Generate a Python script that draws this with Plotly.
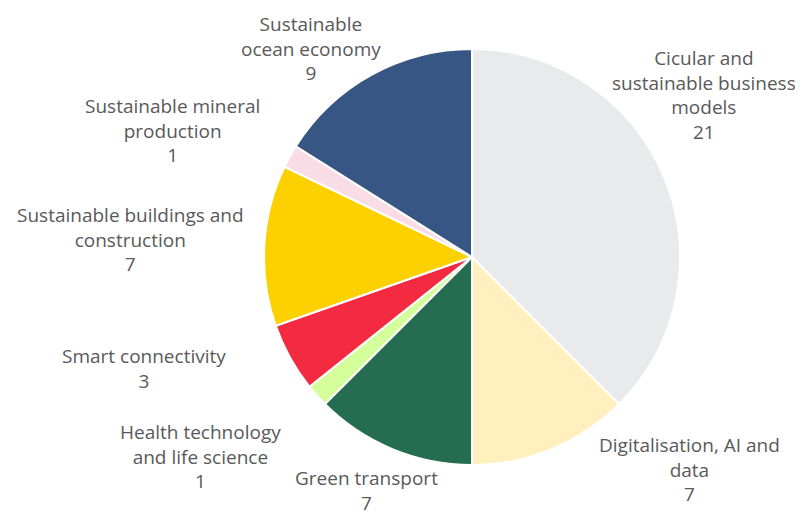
import plotly.graph_objects as go

labels = [
    "Cicular and<br>sustainable business<br>models",
    "Digitalisation, AI and<br>data",
    "Green transport",
    "Health technology<br>and life science",
    "Smart connectivity",
    "Sustainable buildings and<br>construction",
    "Sustainable mineral<br>production",
    "Sustainable<br>ocean economy",
]
values = [21, 7, 7, 1, 3, 7, 1, 9]
colors = ["#E9EAEC", "#FFF0BE", "#256D50", "#D4FF9A", "#F42A40", "#FDD000", "#FADCE6", "#375683"]

# label block centres in screen pixels (layout, not data)
label_px = [(704, 95), (689, 469), (366, 490), (200, 456),
            (144, 368), (130, 239), (172, 131), (311, 48)]

W, H = 803, 516
OFF = 8  # page body margin offset


def fx(px):
    return (px - OFF) / W


def fy(py):
    return 1 - (py - OFF) / H


fig = go.Figure(go.Pie(
    labels=labels,
    values=values,
    sort=False,
    direction="clockwise",
    rotation=0,
    marker=dict(colors=colors, line=dict(color="white", width=2)),
    textinfo="none",
    hoverinfo="label+value",
    showlegend=False,
    domain=dict(x=[fx(264), fx(680)], y=[fy(466), fy(48)]),
))

for lab, val, (px, py) in zip(labels, values, label_px):
    fig.add_annotation(
        x=fx(px), y=fy(py), xref="paper", yref="paper",
        text=f"{lab}<br>{val}", showarrow=False,
        xanchor="center", yanchor="middle", align="center",
        font=dict(family="Open Sans", size=19, color="#595959"),
    )

fig.update_layout(
    width=W, height=H,
    margin=dict(l=0, r=0, t=0, b=0),
    paper_bgcolor="white",
    plot_bgcolor="white",
)
fig.write_html("out.html")
